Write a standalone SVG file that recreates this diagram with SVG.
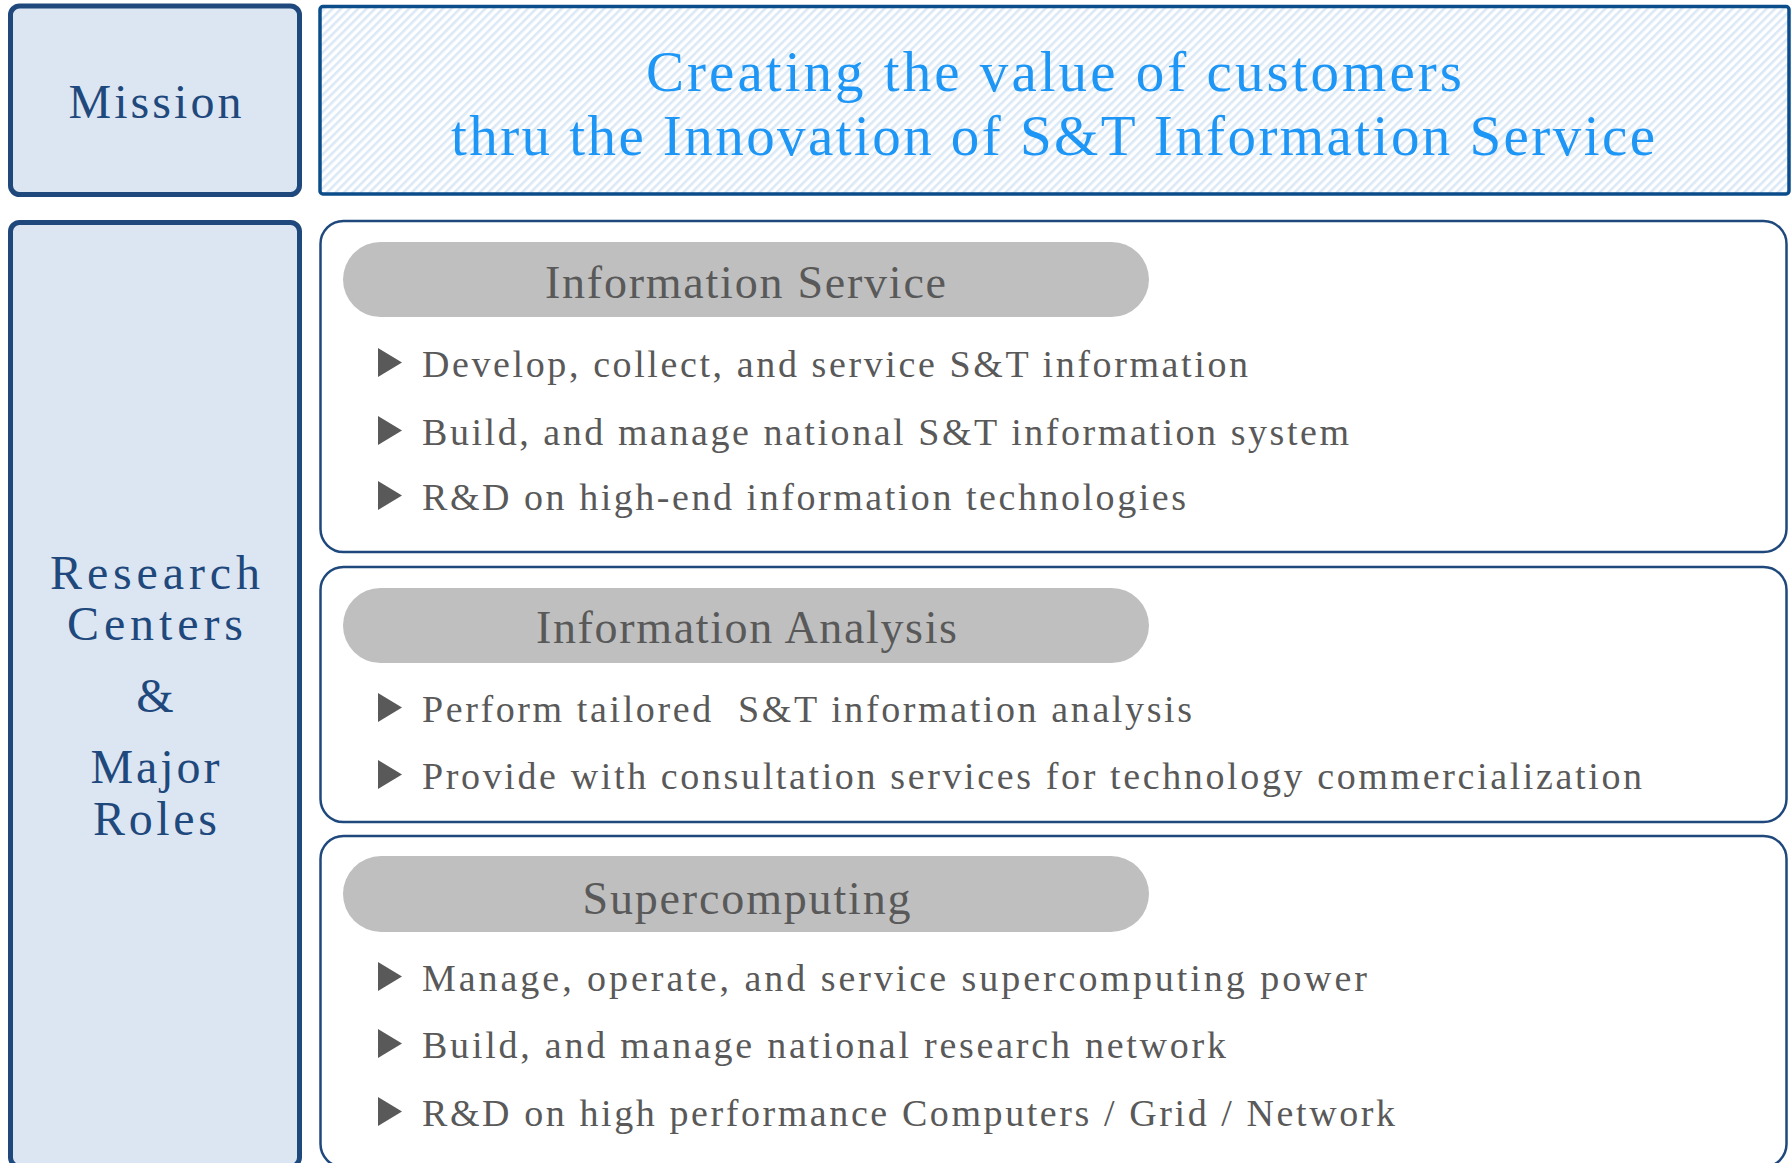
<svg xmlns="http://www.w3.org/2000/svg" width="1792" height="1163" viewBox="0 0 1792 1163">
<defs>
<pattern id="hatch" patternUnits="userSpaceOnUse" width="6" height="6" patternTransform="rotate(45)">
<rect x="0" y="0" width="6" height="6" fill="#ffffff"/>
<rect x="0" y="0" width="2.6" height="6" fill="#dbe8f6"/>
</pattern>
<style>
.lbox{fill:#dce6f2;stroke:#1f497d;stroke-width:5}
.mbox{fill:url(#hatch);stroke:#0b4c8b;stroke-width:3.5}
.panel{fill:#ffffff;stroke:#1f497d;stroke-width:2.5}
.pill{fill:#bfbfbf}
.tri{fill:#595959}
.serif{font-family:"Liberation Serif","DejaVu Serif",serif}
.ltxt{font-size:48px;fill:#1f497d;text-anchor:middle}
.mtxt{font-size:57px;fill:#1e96f5;text-anchor:middle}
.ptxt{font-size:46px;fill:#595959;text-anchor:middle}
.btxt{font-size:38px;fill:#595959}
</style>
</defs>
<rect width="1792" height="1163" fill="#ffffff"/>

<g id="mission-label">
<rect class="lbox" x="10.5" y="6" width="289" height="188.5" rx="9"/>
<text class="serif ltxt" x="155" y="118" textLength="173">Mission</text>
</g>

<g id="mission-statement">
<rect class="mbox" x="320" y="6.5" width="1469" height="187.5" rx="3"/>
<text class="serif mtxt" x="1054" y="91" textLength="816">Creating the value of customers</text>
<text class="serif mtxt" x="1053" y="155" textLength="1204">thru the Innovation of S&amp;T Information Service</text>
</g>

<g id="roles-label">
<rect class="lbox" x="10.5" y="222.5" width="289" height="944" rx="9"/>
<text class="serif ltxt" x="155" y="589" textLength="210">Research</text>
<text class="serif ltxt" x="155" y="640" textLength="176">Centers</text>
<text class="serif ltxt" x="155" y="712" textLength="35">&amp;</text>
<text class="serif ltxt" x="155" y="783" textLength="129">Major</text>
<text class="serif ltxt" x="155" y="835" textLength="124">Roles</text>
</g>

<g id="information-service">
<rect class="panel" x="320.5" y="221" width="1466" height="331" rx="23"/>
<rect class="pill" x="343" y="242" width="806" height="75" rx="37.5"/>
<text class="serif ptxt" x="745.5" y="298" textLength="401">Information Service</text>
<polygon class="tri" points="378,348 378,377 402,362.5"/>
<text class="serif btxt" x="422" y="377" textLength="826">Develop, collect, and service S&amp;T information</text>
<polygon class="tri" points="378,416 378,445 402,430.5"/>
<text class="serif btxt" x="422" y="445" textLength="927">Build, and manage national S&amp;T information system</text>
<polygon class="tri" points="378,481 378,510 402,495.5"/>
<text class="serif btxt" x="422" y="510" textLength="764">R&amp;D on high-end information technologies</text>
</g>

<g id="information-analysis">
<rect class="panel" x="320.5" y="567" width="1466" height="255" rx="23"/>
<rect class="pill" x="343" y="588" width="806" height="75" rx="37.5"/>
<text class="serif ptxt" x="746.5" y="643" textLength="421">Information Analysis</text>
<polygon class="tri" points="378,693 378,722 402,707.5"/>
<text class="serif btxt" x="422" y="722" textLength="770" xml:space="preserve">Perform tailored  S&amp;T information analysis</text>
<polygon class="tri" points="378,760 378,789 402,774.5"/>
<text class="serif btxt" x="422" y="789" textLength="1220">Provide with consultation services for technology commercialization</text>
</g>

<g id="supercomputing">
<rect class="panel" x="320.5" y="836" width="1466" height="331" rx="23"/>
<rect class="pill" x="343" y="856" width="806" height="76" rx="38"/>
<text class="serif ptxt" x="746.5" y="914" textLength="328">Supercomputing</text>
<polygon class="tri" points="378,962 378,991 402,976.5"/>
<text class="serif btxt" x="422" y="991" textLength="945">Manage, operate, and service supercomputing power</text>
<polygon class="tri" points="378,1029 378,1058 402,1043.5"/>
<text class="serif btxt" x="422" y="1058" textLength="804">Build, and manage national research network</text>
<polygon class="tri" points="378,1097 378,1126 402,1111.5"/>
<text class="serif btxt" x="422" y="1126" textLength="973">R&amp;D on high performance Computers / Grid / Network</text>
</g>

<g id="connectors"></g>
</svg>
